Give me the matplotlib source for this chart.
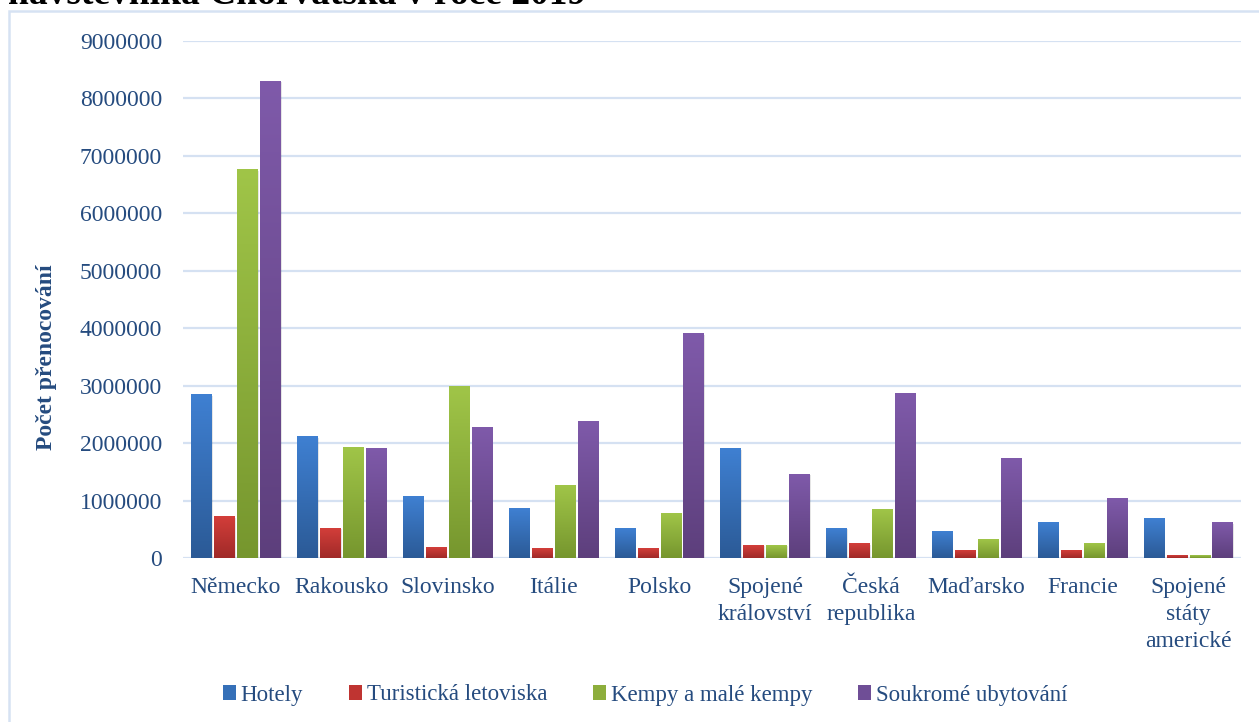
import numpy as np
import matplotlib
matplotlib.use("Agg")
import matplotlib.pyplot as plt
from matplotlib.patches import Rectangle, Patch
from matplotlib.colors import LinearSegmentedColormap

categories = ["Německo", "Rakousko", "Slovinsko", "Itálie", "Polsko",
              "Spojené\nkrálovství", "Česká\nrepublika", "Maďarsko",
              "Francie", "Spojené\nstáty\namerické"]
series_names = ["Hotely", "Turistická letoviska", "Kempy a malé kempy", "Soukromé ubytování"]
hotely = [2840000, 2107000, 1079000, 853000, 505000, 1898000, 520000, 470000, 610000, 680000]
turisticka = [714000, 522000, 190000, 174000, 174000, 226000, 244000, 122000, 122000, 40000]
kempy = [6755000, 1915000, 2977000, 1270000, 780000, 226000, 836000, 330000, 244000, 35000]
soukrome = [8300000, 1898000, 2280000, 2370000, 3900000, 1460000, 2855000, 1740000, 1030000, 610000]
yticks = [0, 1000000, 2000000, 3000000, 4000000, 5000000, 6000000, 7000000, 8000000, 9000000]
title = "návštěvníka Chorvatska v roce 2019"
ylabel = "Počet přenocování"

values = [hotely, turisticka, kempy, soukrome]
tops = ["#3F80D2", "#D33E3A", "#A0C548", "#7F5AAA"]
bottoms = ["#2B5A96", "#A02A28", "#76962E", "#5D3F7C"]
mids = ["#3570B8", "#BF3431", "#8DAE3C", "#6F4E96"]

txt = "#254B7F"
serif = "Liberation Serif"
plt.rcParams["font.family"] = [serif, "DejaVu Serif"]

W, H = 1259, 722
fig = plt.figure(figsize=(W / 100, H / 100), dpi=100)
ax = fig.add_axes([183 / W, (H - 558) / H, (1241 - 183) / W, (558 - 41) / H])

# chart border
fig.patches.append(Rectangle((9 / W, -0.1), 1.2, (H - 11) / H + 0.1, transform=fig.transFigure,
                             fill=False, edgecolor="#D6E2F3", linewidth=1.8, zorder=0))

x = np.arange(len(categories))
step = 0.217
width = 0.19
offsets = (np.arange(4) - 1.5) * step
for i, vals in enumerate(values):
    bars = ax.bar(x + offsets[i], vals, width, color=mids[i], zorder=3, label=series_names[i])
    cmap = LinearSegmentedColormap.from_list("g%d" % i, [bottoms[i], tops[i]])
    grad = np.linspace(0, 1, 256).reshape(-1, 1)
    for b in bars:
        bx, bw, bh = b.get_x(), b.get_width(), b.get_height()
        ax.add_patch(Rectangle((bx + 0.012, 0), bw, bh - 15000, color="#000000", alpha=0.10,
                               zorder=2, linewidth=0))
        ax.imshow(grad, cmap=cmap, origin="lower", aspect="auto",
                  extent=(bx, bx + bw, 0, bh), zorder=4, interpolation="bilinear")

ax.set_xlim(-0.5, len(categories) - 0.5)
ax.set_ylim(0, 9000000)
ax.set_yticks(yticks)
ax.set_yticklabels([str(v) for v in yticks])
ax.yaxis.grid(True, color="#D5E1F2", linewidth=1.6, zorder=1)
ax.set_axisbelow(True)
ax.set_xticks(x)
ax.set_xticklabels(categories, fontsize=17, color=txt, linespacing=1.36)
ax.tick_params(axis="x", length=0, pad=14)
ax.tick_params(axis="y", length=0, pad=15, labelsize=17, labelcolor=txt)
for s in ax.spines.values():
    s.set_visible(False)
ax.set_facecolor("none")

fig.text(47 / W, (H - 357) / H, ylabel, rotation=90, fontsize=17, fontweight="bold",
         color=txt, ha="center", va="center")

fig.text(8 / W, (H - 4) / H, title, fontsize=27, fontweight="bold", color="black",
         ha="left", va="baseline")

handles = [Patch(facecolor=mids[i], edgecolor="none", label=series_names[i]) for i in range(4)]
leg = fig.legend(handles=handles, loc="center", bbox_to_anchor=(645 / W, (H - 695) / H), ncol=4,
                 frameon=False, fontsize=16.5, handlelength=0.58, handleheight=0.58,
                 handletextpad=0.2, columnspacing=2.0, labelcolor=txt)

fig.savefig("out.png", dpi=100)
